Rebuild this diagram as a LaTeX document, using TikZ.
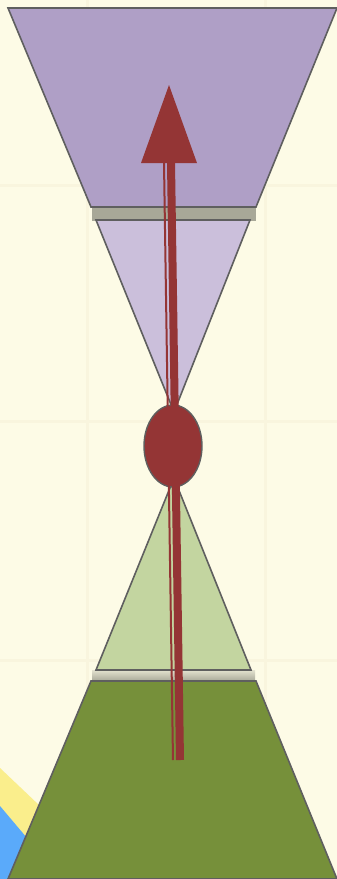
\documentclass[tikz,border=0pt]{standalone}
\usetikzlibrary{arrows.meta,positioning,shapes.geometric}
\definecolor{bgCream}{RGB}{253,251,230}
\definecolor{gridCream}{RGB}{249,245,222}
\definecolor{coneTop}{RGB}{175,159,198}
\definecolor{coneUp}{RGB}{203,191,219}
\definecolor{coneLow}{RGB}{195,213,160}
\definecolor{coneBot}{RGB}{118,144,58}
\definecolor{spinRed}{RGB}{148,53,53}
\definecolor{edgeGray}{RGB}{95,95,95}
\definecolor{shadeGray}{RGB}{168,168,152}
\definecolor{cornerBlue}{RGB}{90,170,250}
\definecolor{cornerYellow}{RGB}{250,238,140}

\begin{document}
\begin{tikzpicture}[
    x=1pt,y=-1pt,
    cone/.style={draw=edgeGray,line width=1.6pt,line join=miter},
    spin/.style={spinRed,line cap=butt},
    gridline/.style={gridCream,line width=3pt}
  ]
    \useasboundingbox (0,0) rectangle (337,879);
    \fill[bgCream] (0,0) rectangle (337,879);
    % faint background grid
    \draw[gridline] (0,185) -- (337,185);
    \draw[gridline] (0,421) -- (337,421);
    \draw[gridline] (0,660) -- (337,660);
    \draw[gridline] (87,0) -- (87,879);
    \draw[gridline] (265,0) -- (265,879);
    % corner stripes
    \fill[cornerYellow] (0,768) -- (40,806) -- (20,879) -- (0,879) -- cycle;
    \fill[cornerBlue] (0,806) -- (27,838) -- (10,879) -- (0,879) -- cycle;
    % shadows in the gaps
    \fill[shadeGray] (92,207) rectangle (256,221);
    \shade[top color=bgCream!70!shadeGray,bottom color=shadeGray] (92,670) rectangle (255,681);
    % the four cones
    \draw[cone,fill=coneTop] (8,8) -- (337,8) -- (256,207) -- (91,207) -- cycle;
    \draw[cone,fill=coneUp] (96,220) -- (250,220) -- (174,412) -- cycle;
    \draw[cone,fill=coneLow] (174,478) -- (251,670) -- (96,670) -- cycle;
    \draw[cone,fill=coneBot] (91,681) -- (256,681) -- (337,879) -- (8,879) -- cycle;
    % the spin
    \node[ellipse,draw=edgeGray,line width=1.4pt,fill=spinRed,minimum width=58pt,minimum height=82pt,inner sep=0pt] (ball) at (173,446) {};
    \coordinate (thinfoot) at (173,760);
    \coordinate (thinhead) at (164,163);
    \coordinate (thickfoot) at (180,760);
    \coordinate (thickhead) at (171,163);
    \draw[spin,line width=2pt] (thinfoot) -- (thinhead);
    \draw[spin,line width=8pt] (thickfoot) -- (thickhead);
    \fill[spinRed] (169,85) -- (197,163) -- (141,163) -- cycle;
  \end{tikzpicture}
\end{document}
